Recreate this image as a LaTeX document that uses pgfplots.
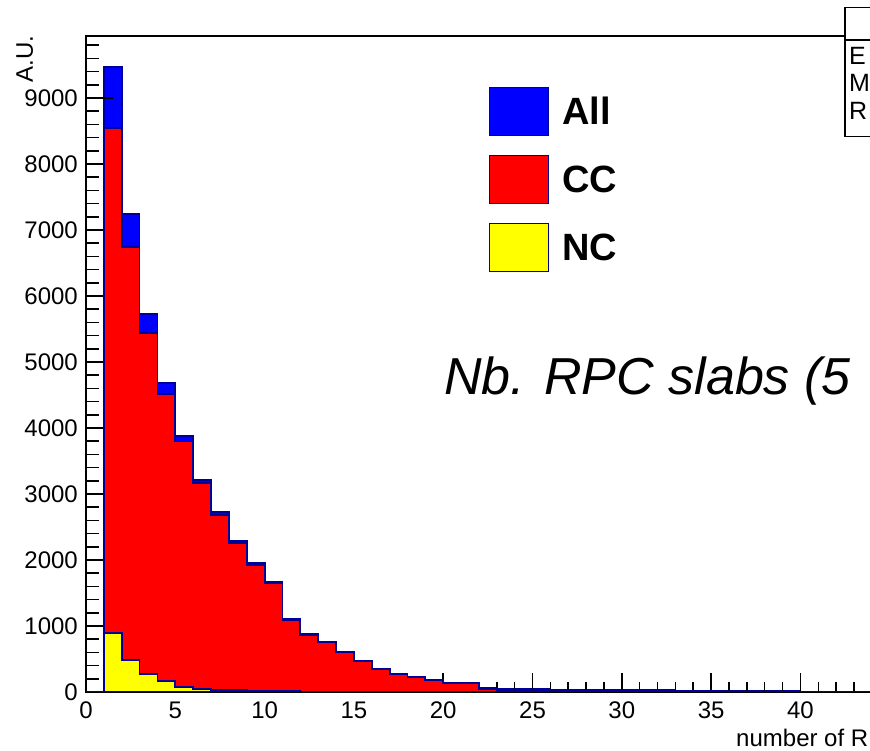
\documentclass[border=0pt]{standalone}
\usepackage{pgfplots}
\pgfplotsset{compat=1.18}
\usepackage{pgfplotstable}
\usepackage{fontspec}
\setmainfont{Liberation Sans}
\definecolor{rootline}{RGB}{0,0,153}
\definecolor{rootblue}{RGB}{0,0,255}
\definecolor{rootred}{RGB}{255,0,0}
\definecolor{rootyellow}{RGB}{255,255,0}

% histograms: x = left bin edge, last row = right end (x=50)
\pgfplotstableread{
x all cc nc
0 0 0 0
1 9470 8550 889
2 7238 6738 480
3 5727 5444 272
4 4686 4511 172
5 3879 3795 78
6 3212 3162 48
7 2727 2686 30
8 2292 2253 26
9 1950 1920 18
10 1662 1647 12
11 1100 1090 10
12 874 866 8
13 762 756 6
14 602 597 5
15 465 461 4
16 356 353 3
17 271 268 3
18 223 221 2
19 188 186 2
20 141 139 2
21 141 140 1
22 61 40 1
23 45 25 1
24 45 25 1
25 45 25 1
26 30 20 1
27 30 20 0
28 30 20 0
29 30 20 0
30 38 22 0
31 38 22 0
32 38 22 0
33 15 10 0
34 15 10 0
35 12 8 0
36 12 8 0
37 10 6 0
38 10 6 0
39 10 6 0
40 8 5 0
41 8 5 0
42 6 4 0
43 6 4 0
44 5 3 0
45 5 3 0
46 4 2 0
47 4 2 0
48 3 2 0
49 3 2 0
50 3 2 0
}\hist

\newcommand{\tickfont}{\fontsize{24}{24}\selectfont}
\begin{document}
\begin{tikzpicture}[x=1pt,y=1pt]
\pgfplotsset{
  common/.style={
    at={(86pt,59pt)}, anchor=south west, scale only axis,
    width=893pt, height=656.3pt,
    xmin=0, xmax=50, ymin=0, ymax=9944,
    axis line style={line width=1.7pt, black},
    tick style={line width=1.5pt, black},
    tick align=inside,
    /pgf/number format/assume math mode=true,
    scaled y ticks=false, scaled x ticks=false,
  }
}
% axis A: x ticks + "All" histogram (ticks drawn over it)
\begin{axis}[common, axis on top,
  xtick={0,5,...,40}, minor xtick={0,1,...,50}, ytick=\empty,
  extra x ticks={45,50}, extra x tick labels={},
  xtick pos=left,
  major tick length=19pt, minor tick length=10pt,
  xticklabel style={font=\tickfont, inner sep=0pt, yshift=-9.7pt},
  xlabel={number of R},
  xlabel style={font=\tickfont, at={(axis description cs:0.7279,-0.0834)}, anchor=base west, inner sep=0pt},
]
\addplot[const plot, fill=rootblue, draw=rootline, line width=1.8pt] table[x=x, y=all] {\hist} \closedcycle;
\end{axis}
% axis B: y ticks
\begin{axis}[common, axis on top,
  xtick=\empty, ytick={0,1000,...,9000}, minor ytick={0,200,...,9800},
  ytick pos=left,
  major tick length=27pt, minor tick length=13pt,
  yticklabel style={font=\tickfont, inner sep=0pt, xshift=-8pt, /pgf/number format/1000 sep={}},
  ylabel={A.U.},
  ylabel style={font=\tickfont, at={(axis description cs:-0.0594,1)}, anchor=base east, inner sep=0pt},
]
\end{axis}
% axis C: CC and NC drawn over the ticks
\begin{axis}[common, hide axis,
  legend image code/.code={\draw[#1, line width=1pt] (0pt,-24pt) rectangle (59pt,24pt);},
  legend cell align=left,
  legend style={draw=none, fill=none, at={(0.4513,0.9218)}, anchor=north west,
    inner sep=0pt, row sep=19pt, column sep=13pt,
    nodes={inner sep=0pt},
    font=\fontsize{38}{40}\selectfont\bfseries},
]
\addlegendimage{fill=rootblue, draw=rootline}
\addlegendentry{All}
\addplot[const plot, fill=rootred, draw=rootline, line width=1.8pt] table[x=x, y=cc] {\hist} \closedcycle;
\addlegendentry{CC}
\addplot[const plot, fill=rootyellow, draw=rootline, line width=1.8pt] table[x=x, y=nc] {\hist} \closedcycle;
\addlegendentry{NC}
\end{axis}
% title (visible part)
\node[anchor=base west, inner sep=0pt, font=\fontsize{52}{56}\selectfont\itshape] at (444,356) {Nb. RPC slabs (5};
% statistics box (cut off at the right edge)
\draw[fill=white, line width=1.5pt] (845,743.7) rectangle (1100,614.3);
\draw[line width=1.5pt] (845,711) -- (1100,711);
\node[anchor=base west, inner sep=0pt, font=\fontsize{25}{25}\selectfont] at (849,686) {E};
\node[anchor=base west, inner sep=0pt, font=\fontsize{25}{25}\selectfont] at (849,659.3) {M};
\node[anchor=base west, inner sep=0pt, font=\fontsize{25}{25}\selectfont] at (849,631.7) {R};
\pgfresetboundingbox
\path[use as bounding box] (0,0) rectangle (870,751);
\end{tikzpicture}
\end{document}
